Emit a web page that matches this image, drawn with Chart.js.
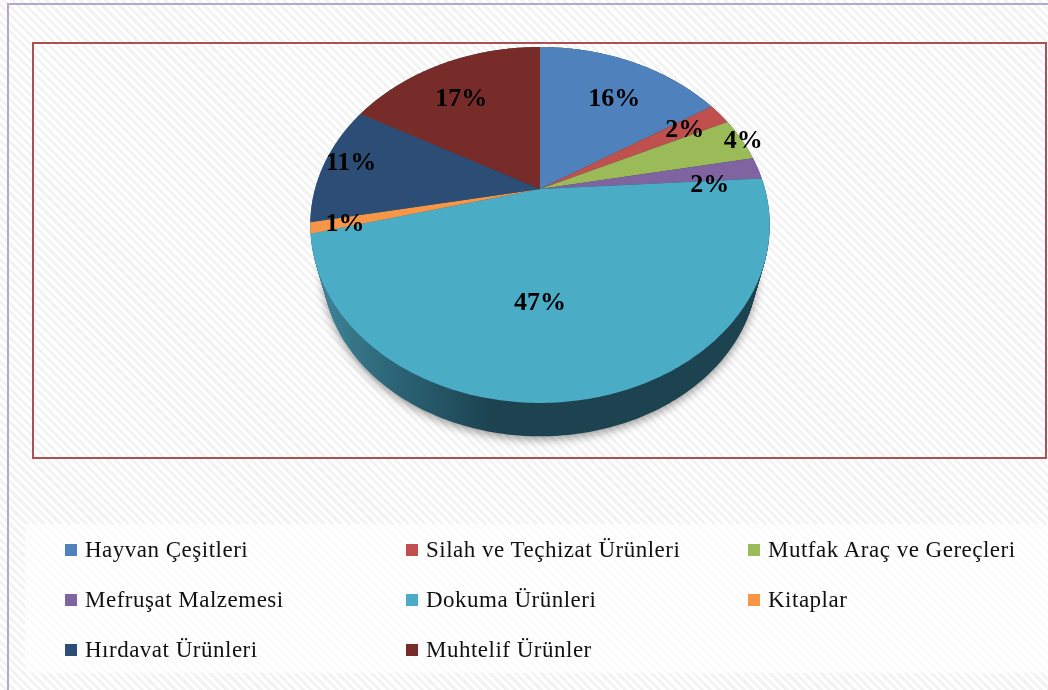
<!DOCTYPE html>
<html>
<head>
<meta charset="utf-8">
<title>Pie</title>
<script src="https://cdn.jsdelivr.net/npm/chart.js@4"></script>
<style>
    html, body { margin: 0; padding: 0; }
    body {
        width: 1048px;
        height: 690px;
        position: relative;
        overflow: hidden;
        background: repeating-linear-gradient(45deg, #ffffff 0 3px, #f3f3f3 3px 6px);
    }
    #frame {
        position: absolute;
        left: 7px;
        top: 3px;
        width: 1041px;
        height: 687px;
        border-left: 2px solid #b3a9cf;
        border-top: 2px solid #b3a9cf;
        box-sizing: border-box;
    }
    #plot {
        position: absolute;
        left: 32px;
        top: 42px;
        width: 1015px;
        height: 417px;
        border: 2px solid #ad5054;
        box-sizing: border-box;
    }
    #band {
        position: absolute;
        left: 25px;
        top: 524px;
        width: 1023px;
        height: 149px;
        background: repeating-linear-gradient(45deg, #ffffff 0 3px, #fbfbfb 3px 6px);
    }
    canvas { position: absolute; left: 0; top: 0; filter: blur(0.5px); }
    #legend { filter: blur(0.5px); }
    #legend div {
        position: absolute;
        font: 23px "Liberation Serif", serif;
        letter-spacing: 0.5px;
        color: #111;
        white-space: nowrap;
        line-height: 24px;
    }
    #legend i {
        position: absolute;
        left: -20px;
        top: 6px;
        width: 12px;
        height: 12px;
    }
</style>
</head>
<body>
<div id="frame"></div>
<div id="plot"></div>
<div id="band"></div>
<canvas id="chart" width="1048" height="690"></canvas>
<div id="legend"></div>
<script>
const categories = [
    'Hayvan Çeşitleri', 'Silah ve Teçhizat Ürünleri', 'Mutfak Araç ve Gereçleri',
    'Mefruşat Malzemesi', 'Dokuma Ürünleri', 'Kitaplar',
    'Hırdavat Ürünleri', 'Muhtelif Ürünler'
];
const shares = [16, 2, 4, 2, 47, 1, 11, 17];
const colors = ['#4f81bd', '#c0504d', '#9bbb59', '#8064a2', '#4bacc6', '#f79646', '#2c4d75', '#772c2a'];

// where each percent label sits: fraction of the radius, and a small turn in degrees
const labelRadius = [0.71, 0.79, 1.01, 0.76, 0.58, 0.855, 0.885, 0.72];
const labelTurn = [2.6, 0, 0, 4.6, 9, 0, 2, -2.4];

// the tilted disc: hub position, radius, perspective, and how the lower rim edge shrinks and drops
const tilt = { hubX: 540, hubY: 189, r: 225, a: 170.7, k: -0.202, midY: 225, rimScale: 0.946, rimDrop: 43 };

function project(u, v) {
    const w = 1 + tilt.k * v;
    return { x: tilt.hubX + tilt.r * u / w, y: tilt.hubY + tilt.a * v / w };
}

function tracePart(ctx, start, end, closeToHub) {
    const steps = Math.max(2, Math.ceil((end - start) * 60));
    ctx.beginPath();
    if (closeToHub) {
        const hub = project(0, 0);
        ctx.moveTo(hub.x, hub.y);
    }
    for (let i = 0; i <= steps; i++) {
        const angle = start + (end - start) * i / steps;
        const p = project(Math.cos(angle), Math.sin(angle));
        ctx.lineTo(p.x, p.y);
    }
    ctx.closePath();
}

// t = 0 is the top disc, t = 1 the bottom edge of the rim
function traceRim(ctx, t) {
    const s = 1 - (1 - tilt.rimScale) * t;
    ctx.beginPath();
    for (let i = 0; i <= 360; i++) {
        const angle = i * Math.PI / 180;
        const p = project(Math.cos(angle), Math.sin(angle));
        ctx.lineTo(tilt.hubX + s * (p.x - tilt.hubX), tilt.midY + s * (p.y - tilt.midY) + tilt.rimDrop * t);
    }
    ctx.closePath();
}

// Chart.js only draws flat circles, so the slices are redrawn from the arc
// elements' own angles, put through the tilt.
const tiltedPie = {
    id: 'tiltedPie',
    beforeDatasetsDraw: function (chart) {
        const ctx = chart.ctx;
        const arcs = chart.getDatasetMeta(0).data;

        // rim
        const rim = ctx.createLinearGradient(320, 0, 490, 0);
        rim.addColorStop(0, '#3f8397');
        rim.addColorStop(0.4, '#2d6779');
        rim.addColorStop(1, '#1d4351');
        ctx.save();
        ctx.shadowColor = 'rgba(0,0,0,0.4)';
        ctx.shadowBlur = 10;
        ctx.shadowOffsetY = 3;
        ctx.fillStyle = rim;
        traceRim(ctx, 1);
        ctx.fill();
        ctx.shadowColor = 'transparent';
        for (let d = 0; d < 44; d++) {
            traceRim(ctx, d / 44);
            ctx.fill();
        }
        ctx.restore();

        arcs.forEach(function (arc, i) {
            tracePart(ctx, arc.startAngle, arc.endAngle, true);
            ctx.fillStyle = colors[i];
            ctx.fill();
        });

        ctx.save();
        ctx.font = 'bold 26px "Liberation Serif", serif';
        ctx.fillStyle = '#000';
        ctx.textAlign = 'center';
        ctx.textBaseline = 'middle';
        arcs.forEach(function (arc, i) {
            const mid = (arc.startAngle + arc.endAngle) / 2 + labelTurn[i] * Math.PI / 180;
            const p = project(labelRadius[i] * Math.cos(mid), labelRadius[i] * Math.sin(mid));
            ctx.fillText(shares[i] + '%', p.x, p.y + 2);
        });
        ctx.restore();
        return false;
    }
};

const chart = new Chart(document.getElementById('chart'), {
    type: 'pie',
    data: {
        labels: categories,
        datasets: [{ data: shares, backgroundColor: colors, borderWidth: 0 }]
    },
    options: {
        responsive: false,
        animation: false,
        plugins: { legend: { display: false }, tooltip: { enabled: false } }
    },
    plugins: [tiltedPie]
});

// legend sits in a fixed three column grid, which the built-in one cannot do
const legendColumns = [85, 426, 768];
const legendRows = [538, 588, 638];
const legendBox = document.getElementById('legend');
chart.data.labels.forEach(function (label, i) {
    const item = document.createElement('div');
    item.style.left = legendColumns[i % 3] + 'px';
    item.style.top = legendRows[Math.floor(i / 3)] + 'px';
    item.textContent = label;
    const swatch = document.createElement('i');
    swatch.style.background = colors[i];
    item.appendChild(swatch);
    legendBox.appendChild(item);
});
</script>
</body>
</html>
